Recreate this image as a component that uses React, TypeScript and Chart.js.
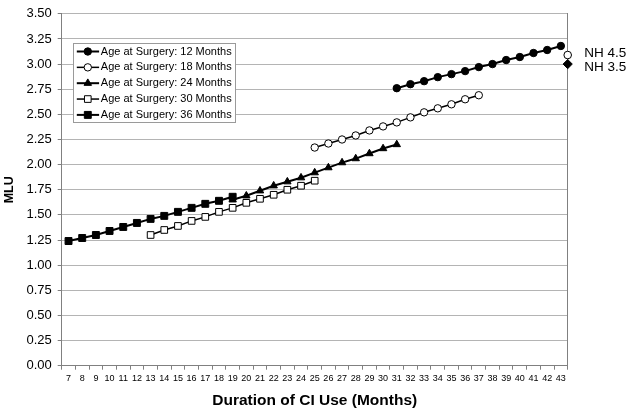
import React, { useEffect, useRef } from 'react';
import { Chart, registerables } from 'chart.js';
import { drawPoint } from 'chart.js/helpers';

Chart.register(...registerables);

const FONT = '"Liberation Sans", Arial, sans-serif';

// Duration of CI use (months) – category labels
const months = ['7', '8', '9', '10', '11', '12', '13', '14', '15', '16', '17', '18', '19', '20', '21', '22', '23', '24', '25',
  '26', '27', '28', '29', '30', '31', '32', '33', '34', '35', '36', '37', '38', '39', '40', '41', '42', '43'];

// MLU per series, each starting at the given duration month
const start12 = 31;
const mlu12 = [2.76, 2.80, 2.83, 2.87, 2.90, 2.93, 2.97, 3.00, 3.04, 3.07, 3.11, 3.14, 3.18];
const start18 = 25;
const mlu18 = [2.17, 2.21, 2.25, 2.29, 2.34, 2.38, 2.42, 2.47, 2.52, 2.56, 2.60, 2.65, 2.69];
const start24 = 19;
const mlu24 = [1.65, 1.69, 1.74, 1.79, 1.83, 1.87, 1.92, 1.97, 2.02, 2.06, 2.11, 2.16, 2.20];
const start30 = 13;
const mlu30 = [1.30, 1.35, 1.39, 1.44, 1.48, 1.53, 1.57, 1.62, 1.66, 1.70, 1.75, 1.79, 1.84];
const start36 = 7;
const mlu36 = [1.24, 1.27, 1.30, 1.34, 1.38, 1.42, 1.46, 1.49, 1.53, 1.57, 1.61, 1.64, 1.68];

const seriesLabels = [
  'Age at Surgery: 12 Months',
  'Age at Surgery: 18 Months',
  'Age at Surgery: 24 Months',
  'Age at Surgery: 30 Months',
  'Age at Surgery: 36 Months',
];

// Normal-hearing reference points (placed at the right edge of the month axis)
const nhLabels = ['NH 4.5', 'NH 3.5'];
const nhValues = [3.09, 3.0];
const nhX = [43.5, 43.5];

// Y axis
const yMin = 0;
const yMax = 3.5;
const yStep = 0.25;

const pad = (start: number, vals: number[]) =>
  months.map((m) => {
    const i = Number(m) - start;
    return i >= 0 && i < vals.length ? vals[i] : null;
  });

const legendPlugin = {
  id: 'boxLegend',
  afterDraw(chart: any) {
    const { ctx, chartArea } = chart;
    const items = chart.data.datasets.filter((d: any) => d.inLegend);
    ctx.save();
    ctx.font = `11px ${FONT}`;
    const x0 = Math.round(chartArea.left + 11) + 0.5;
    const y0 = Math.round(chartArea.top + 29) + 0.5;
    const rowH = 15.85;
    const textX = x0 + 27.3;
    let maxW = 0;
    items.forEach((d: any) => { maxW = Math.max(maxW, ctx.measureText(d.label).width); });
    const w = Math.round(textX - x0 + maxW + 4);
    const h = Math.round(rowH * (items.length - 1) + 15.6);
    ctx.fillStyle = '#ffffff';
    ctx.fillRect(x0, y0, w, h);
    ctx.strokeStyle = '#9a9a9a';
    ctx.lineWidth = 1;
    ctx.strokeRect(x0, y0, w, h);
    items.forEach((d: any, i: number) => {
      const y = y0 + 8 + i * rowH;
      ctx.strokeStyle = '#000';
      ctx.lineWidth = d.borderWidth;
      ctx.beginPath();
      ctx.moveTo(x0 + 3.3, y);
      ctx.lineTo(x0 + 25.6, y);
      ctx.stroke();
      ctx.fillStyle = d.pointBackgroundColor;
      ctx.strokeStyle = d.pointBorderColor;
      ctx.lineWidth = 1;
      drawPoint(ctx, { pointStyle: d.pointStyle, radius: d.pointRadius, rotation: 0, borderWidth: 1 } as any, x0 + 14.3, y);
      ctx.fillStyle = '#000';
      ctx.textBaseline = 'middle';
      ctx.textAlign = 'left';
      ctx.fillText(d.label, textX, y);
    });
    ctx.restore();
  },
};

const nhPlugin = {
  id: 'nhLabels',
  afterDatasetsDraw(chart: any) {
    const { ctx } = chart;
    chart.data.datasets.forEach((ds: any, i: number) => {
      if (!ds.nhLabel) return;
      const pt = chart.getDatasetMeta(i).data[0];
      if (!pt) return;
      ctx.save();
      ctx.font = `13.5px ${FONT}`;
      ctx.fillStyle = '#000';
      ctx.textBaseline = 'middle';
      ctx.textAlign = 'left';
      ctx.fillText(ds.nhLabel, pt.x + 16.5, pt.y + ds.nhDy);
      ctx.restore();
    });
  },
};

export default function App() {
  const ref = useRef<HTMLCanvasElement | null>(null);

  useEffect(() => {
    if (!ref.current) return;
    const lineDs = (label: string, data: any[], style: string, radius: number, open: boolean, width: number, order = 0) => ({
      type: 'line',
      label,
      data,
      xAxisID: 'x',
      yAxisID: 'y',
      borderColor: '#000',
      borderWidth: width,
      pointStyle: style,
      pointRadius: radius,
      pointBorderWidth: 1,
      pointBackgroundColor: open ? '#ffffff' : '#000000',
      pointBorderColor: '#000000',
      tension: 0,
      spanGaps: false,
      inLegend: true,
      order,
    });

    const chart = new Chart(ref.current, {
      type: 'line',
      data: {
        labels: months,
        datasets: [
          lineDs(seriesLabels[0], pad(start12, mlu12), 'circle', 3.7, false, 2),
          lineDs(seriesLabels[1], pad(start18, mlu18), 'circle', 3.7, true, 1.5),
          lineDs(seriesLabels[2], pad(start24, mlu24), 'triangle', 4.3, false, 2),
          lineDs(seriesLabels[3], pad(start30, mlu30), 'rect', 4.7, true, 1.5),
          lineDs(seriesLabels[4], pad(start36, mlu36), 'rect', 4.9, false, 2, -1),
          {
            type: 'line',
            label: nhLabels[0],
            nhLabel: nhLabels[0],
            nhDy: -1.5,
            data: [{ x: nhX[0], y: nhValues[0] }],
            xAxisID: 'xn',
            yAxisID: 'y',
            showLine: false,
            clip: false,
            pointStyle: 'circle',
            pointRadius: 3.8,
            pointBorderWidth: 1,
            pointBackgroundColor: '#ffffff',
            pointBorderColor: '#000000',
            borderColor: '#000',
          },
          {
            type: 'line',
            label: nhLabels[1],
            nhLabel: nhLabels[1],
            nhDy: 3,
            data: [{ x: nhX[1], y: nhValues[1] }],
            xAxisID: 'xn',
            yAxisID: 'y',
            showLine: false,
            clip: false,
            pointStyle: 'rectRot',
            pointRadius: 4.6,
            pointBorderWidth: 1,
            pointBackgroundColor: '#000000',
            pointBorderColor: '#000000',
            borderColor: '#000',
          },
        ] as any,
      },
      options: {
        animation: false,
        responsive: true,
        maintainAspectRatio: false,
        devicePixelRatio: 1,
        layout: { padding: { top: 10.3, right: 63.3, bottom: 0, left: 0 } },
        plugins: { legend: { display: false }, tooltip: { enabled: false } },
        scales: {
          x: {
            type: 'category',
            offset: true,
            grid: { offset: true, drawOnChartArea: false, drawTicks: true, tickLength: 4, color: '#808080', tickColor: '#808080' },
            border: { color: '#808080', width: 1 },
            ticks: { font: { size: 9, family: FONT }, color: '#000', autoSkip: false, maxRotation: 0, minRotation: 0, padding: 3 },
            title: {
              display: true,
              text: 'Duration of CI Use (Months)',
              font: { size: 15.5, weight: 'bold', family: FONT },
              color: '#000',
              padding: { top: 0, bottom: 2 },
            },
            afterFit: (s: any) => { s.height = 46.3; },
          },
          xn: { type: 'linear', display: false, min: 6.5, max: 43.5 },
          y: {
            type: 'linear',
            position: 'left',
            min: yMin,
            max: yMax,
            ticks: {
              stepSize: yStep,
              callback: (v: any) => Number(v).toFixed(2),
              font: { size: 13, family: FONT },
              color: '#000',
              padding: 6,
            },
            grid: { color: '#b4b4b4', tickColor: '#808080', tickLength: 4 },
            border: { color: '#808080', width: 1 },
            title: {
              display: true,
              text: 'MLU',
              font: { size: 12.5, weight: 'bold', family: FONT },
              color: '#000',
              padding: { top: 2, bottom: 0 },
            },
            afterFit: (s: any) => { s.width = 61.7; },
          },
          y2: {
            type: 'linear',
            position: 'right',
            min: yMin,
            max: yMax,
            ticks: { display: false },
            grid: { drawOnChartArea: false, drawTicks: false },
            border: { color: '#808080', width: 1 },
            afterFit: (s: any) => { s.width = 0; },
          },
        },
      } as any,
      plugins: [legendPlugin, nhPlugin],
    });
    return () => chart.destroy();
  }, []);

  return (
    <div style={{ position: 'absolute', left: 0, top: 0, width: 631, height: 412, background: '#fff' }}>
      <canvas ref={ref} />
    </div>
  );
}
